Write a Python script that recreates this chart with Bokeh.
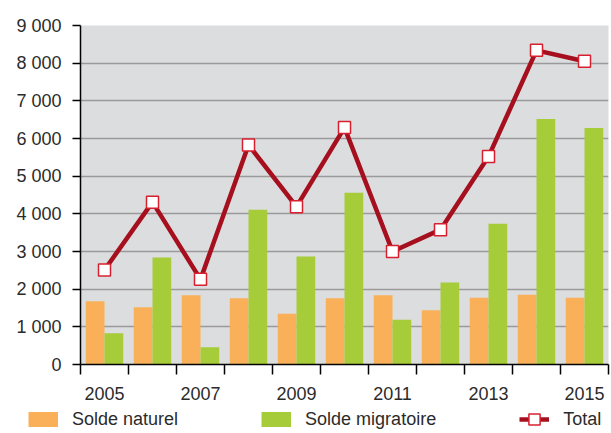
from bokeh.plotting import figure
from bokeh.models import Range1d, FixedTicker, Legend, LegendItem, ColumnDataSource
from bokeh.transform import dodge
from bokeh.embed import file_html
from bokeh.resources import INLINE

years = [2005, 2006, 2007, 2008, 2009, 2010, 2011, 2012, 2013, 2014, 2015]
solde_naturel = [1680, 1520, 1840, 1760, 1350, 1760, 1840, 1440, 1770, 1850, 1770]
solde_migratoire = [830, 2840, 460, 4110, 2870, 4560, 1190, 2180, 3740, 6520, 6280]
total = [2510, 4310, 2260, 5830, 4190, 6290, 3000, 3580, 5520, 8340, 8050]

x_tick_years = [2005, 2007, 2009, 2011, 2013, 2015]
x_tick_labels = ["2005", "2007", "2009", "2011", "2013", "2015"]
y_ticks = [0, 1000, 2000, 3000, 4000, 5000, 6000, 7000, 8000, 9000]
y_tick_labels = ["0", "1 000", "2 000", "3 000", "4 000", "5 000", "6 000", "7 000", "8 000", "9 000"]

ORANGE = "#f9b058"
GREEN = "#a6cc3a"
LINE = "#a50f1e"
MARK = "#d7202f"
TEXT = "#2b2b2b"
FONT = "Liberation Sans"

src = ColumnDataSource(dict(year=years, naturel=solde_naturel, migratoire=solde_migratoire, total=total))

p = figure(width=611, height=402,
           x_range=Range1d(years[0] - 0.5, years[-1] + 0.5),
           y_range=Range1d(y_ticks[0], y_ticks[-1]),
           output_backend="svg", toolbar_location=None,
           min_border_left=80, min_border_top=25, min_border_right=3, min_border_bottom=38,
           background_fill_color="#dcdddf", border_fill_color="white",
           outline_line_color=None)

p.vbar(x=dodge("year", -0.195), top="naturel", width=0.39, source=src,
       fill_color=ORANGE, line_color=None)
p.vbar(x=dodge("year", 0.195), top="migratoire", width=0.39, source=src,
       fill_color=GREEN, line_color=None)
p.line("year", "total", source=src, line_width=4.5, line_color=LINE)
p.scatter("year", "total", source=src, marker="square", size=12,
          fill_color="white", line_color=MARK, line_width=1.5)

# x axis
p.xaxis.ticker = FixedTicker(ticks=x_tick_years,
                             minor_ticks=[y - 0.5 for y in years] + [years[-1] + 0.5])
p.xaxis.major_label_overrides = {y: l for y, l in zip(x_tick_years, x_tick_labels)}
p.xaxis.major_tick_out = 0
p.xaxis.major_tick_in = 0
p.xaxis.minor_tick_out = 10
p.xaxis.minor_tick_in = 0
p.xaxis.minor_tick_line_color = "black"
p.xaxis.minor_tick_line_width = 1.5
p.xaxis.axis_line_color = "black"
p.xaxis.axis_line_width = 1.5
p.xaxis.major_label_standoff = 12

# y axis
p.yaxis.ticker = FixedTicker(ticks=y_ticks)
p.yaxis.major_label_overrides = {t: l for t, l in zip(y_ticks, y_tick_labels)}
p.yaxis.major_tick_out = 8
p.yaxis.major_tick_in = 0
p.yaxis.minor_tick_out = 0
p.yaxis.minor_tick_in = 0
p.yaxis.major_tick_line_color = "black"
p.yaxis.major_tick_line_width = 1.5
p.yaxis.axis_line_color = "black"
p.yaxis.axis_line_width = 1.5
p.yaxis.major_label_standoff = 11

for ax in (p.xaxis, p.yaxis):
    ax.major_label_text_font = FONT
    ax.major_label_text_font_size = "18px"
    ax.major_label_text_color = TEXT

p.xgrid.visible = False
p.ygrid.grid_line_color = "#9a9a9a"
p.ygrid.grid_line_width = 1.5

# legend strip below the chart (its key glyphs use the same data, outside the strip's range)
lf = figure(width=611, height=31, x_axis_type=None, y_axis_type=None,
            x_range=Range1d(0, 1), y_range=Range1d(0, 1),
            output_backend="svg", toolbar_location=None, min_border=0,
            outline_line_color=None, background_fill_color="white",
            border_fill_color="white")
lf.grid.visible = False
sw_nat = lf.line("year", "naturel", source=src, line_width=15, line_color=ORANGE, line_cap="butt")
sw_mig = lf.line("year", "migratoire", source=src, line_width=15, line_color=GREEN, line_cap="butt")
sw_tl = lf.line("year", "total", source=src, line_width=4.5, line_color=LINE)
sw_ts = lf.scatter("year", "total", source=src, marker="square", size=12,
                   fill_color="white", line_color=MARK, line_width=1.5)

legend = Legend(items=[LegendItem(label="Solde naturel", renderers=[sw_nat]),
                       LegendItem(label="Solde migratoire", renderers=[sw_mig]),
                       LegendItem(label="Total", renderers=[sw_tl, sw_ts])],
                location=(28, 0), orientation="horizontal",
                glyph_width=30, glyph_height=28, label_height=28,
                label_standoff=14, padding=0, margin=0, spacing=83,
                border_line_color=None, background_fill_alpha=0,
                label_text_font=FONT, label_text_font_size="18px",
                label_text_color=TEXT)
lf.add_layout(legend)

open("out.html", "w").write(file_html([p, lf], INLINE))
